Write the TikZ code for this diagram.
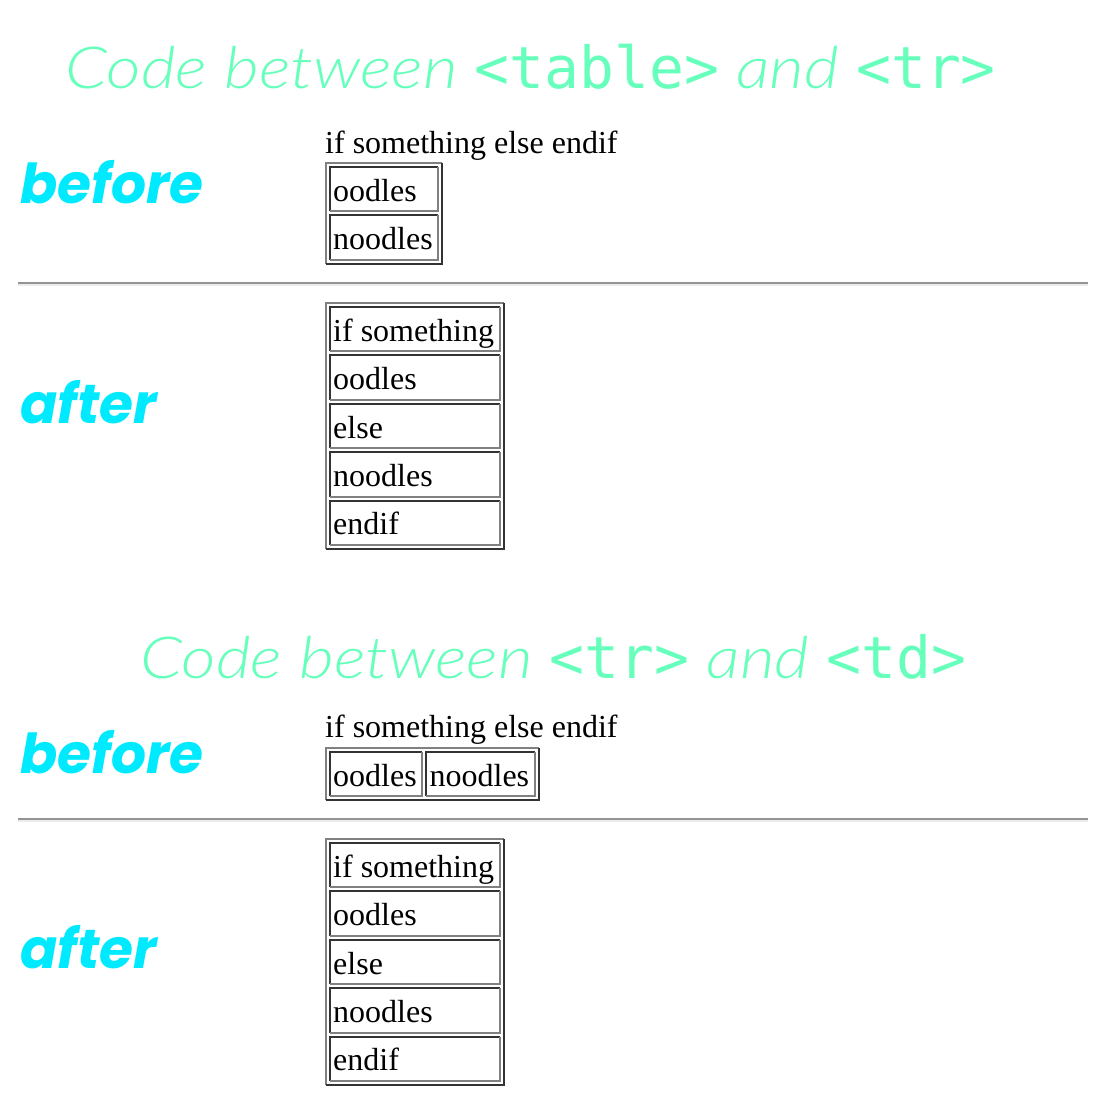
\documentclass[tikz,border=0pt]{standalone}
\usepackage{fontspec}
\setmainfont{Liberation Serif}
\newfontfamily\monofont{DejaVu Sans Mono}
\IfFontExistsTF{Lato Light Italic}
  {\newfontfamily\headfont{Lato Light Italic}[FakeStretch = 1.16]}
  {\newfontfamily\headfont{Lato Italic}[FakeStretch = 1.16]}
\newfontfamily\tagfont{Poppins}
\usepackage{xcolor}
\usetikzlibrary{positioning, calc}
\definecolor{mint}{HTML}{66FFBB}
\definecolor{aqua}{HTML}{00EAFF}
\definecolor{bevdark}{HTML}{333333}
\definecolor{bevlight}{HTML}{808080}
\newlength{\Pitch}
\setlength\Pitch{4pt}
% two-tone border: sw corner, ne corner, top/left colour, bottom/right colour
\newcommand{\bevel}[4]{%
  \draw [#3, line width = 2pt] (#1) |- (#2);
  \draw [#4, line width = 2pt] (#1) -| (#2);}

\begin{document}
\begin{tikzpicture}[
    x = 1pt, y = 1pt,
    heading/.style = {
      anchor = base west, inner sep = 0pt, text = mint,
      font = \fontsize{58}{60}\selectfont\headfont
    },
    tag/.style = {
      anchor = base west, inner sep = 0pt, text = aqua,
      font = \fontsize{55}{60}\selectfont\tagfont\bfseries\itshape
    },
    plain/.style = {
      anchor = base west, inner sep = 0pt,
      font = \fontsize{32}{36}\selectfont
    },
    cell/.style = {
      rectangle, anchor = north west, inner xsep = 3pt, inner ysep = 0pt,
      minimum height = 44pt, text width = #1, align = flush left,
      text height = 30pt, text depth = 6pt,
      font = \fontsize{32}{36}\selectfont
    },
    rule/.style = {line width = 2pt, draw = black!42},
    rulelow/.style = {line width = 1.5pt, draw = black!8},
    ]

    \useasboundingbox [fill = white] (0,0) rectangle (1100,-1114);

    % draw headings
    \node  [heading]  (head1)  at (65,-88)
      {Code between {\monofont<table>} and {\monofont<tr>}};
    \node  [heading]  (head2)  at (140,-678)
      {Code between {\monofont<tr>} and {\monofont<td>}};

    % draw row tags
    \node  [tag]  (before1)  at (20,-203)  {before};
    \node  [tag]  (after1)   at (20,-423)  {after};
    \node  [tag]  (before2)  at (20,-773)  {before};
    \node  [tag]  (after2)   at (20,-968)  {after};

    % draw rules
    \coordinate  (r1a)  at (18,-283);
    \coordinate  (r1b)  at (1088,-283);
    \coordinate  (r2a)  at (18,-819);
    \coordinate  (r2b)  at (1088,-819);
    \draw  [rulelow]  ($(r1a)+(0,-1.8)$)  --  ($(r1b)+(0,-1.8)$);
    \draw  [rule]  (r1a)  --  (r1b);
    \draw  [rulelow]  ($(r2a)+(0,-1.8)$)  --  ($(r2b)+(0,-1.8)$);
    \draw  [rule]  (r2a)  --  (r2b);

    % first block, before
    \node  [plain]  (line1)  at (325,-153)  {if something else endif};
    \node  [cell = 102pt]  (b1)  at (330,-167)  {oodles};
    \node  [cell = 102pt]  (b2)  [below = \Pitch of b1]  {noodles};

    % first block, after
    \node  [cell = 164pt]  (a1)  at (330,-307)  {if something};
    \foreach \i/\txt [remember = \i as \lasti (initially 1)] in
      {2/oodles, 3/else, 4/noodles, 5/endif}
    \node  [cell = 164pt]  (a\i)  [below = \Pitch of a\lasti]  {\txt};

    % second block, before
    \node  [plain]  (line2)  at (325,-737)  {if something else endif};
    \node  [cell = 86pt]  (c1)  at (330,-752)  {oodles};
    \node  [cell = 102pt]  (c2)  [right = \Pitch of c1]  {noodles};

    % second block, after
    \node  [cell = 164pt]  (d1)  at (330,-843)  {if something};
    \foreach \i/\txt [remember = \i as \lasti (initially 1)] in
      {2/oodles, 3/else, 4/noodles, 5/endif}
    \node  [cell = 164pt]  (d\i)  [below = \Pitch of d\lasti]  {\txt};

    % draw cell borders
    \foreach \n in {b1, b2, a1, a2, a3, a4, a5, c1, c2, d1, d2, d3, d4, d5}
    {\bevel{\n.south west}{\n.north east}{bevdark}{bevlight}}

    % draw table borders
    \bevel{$(b2.south west)+(-4,-4)$}{$(b1.north east)+(4,4)$}{bevlight}{bevdark}
    \bevel{$(a5.south west)+(-4,-4)$}{$(a1.north east)+(4,4)$}{bevlight}{bevdark}
    \bevel{$(c1.south west)+(-4,-4)$}{$(c2.north east)+(4,4)$}{bevlight}{bevdark}
    \bevel{$(d5.south west)+(-4,-4)$}{$(d1.north east)+(4,4)$}{bevlight}{bevdark}

\end{tikzpicture}
\end{document}
